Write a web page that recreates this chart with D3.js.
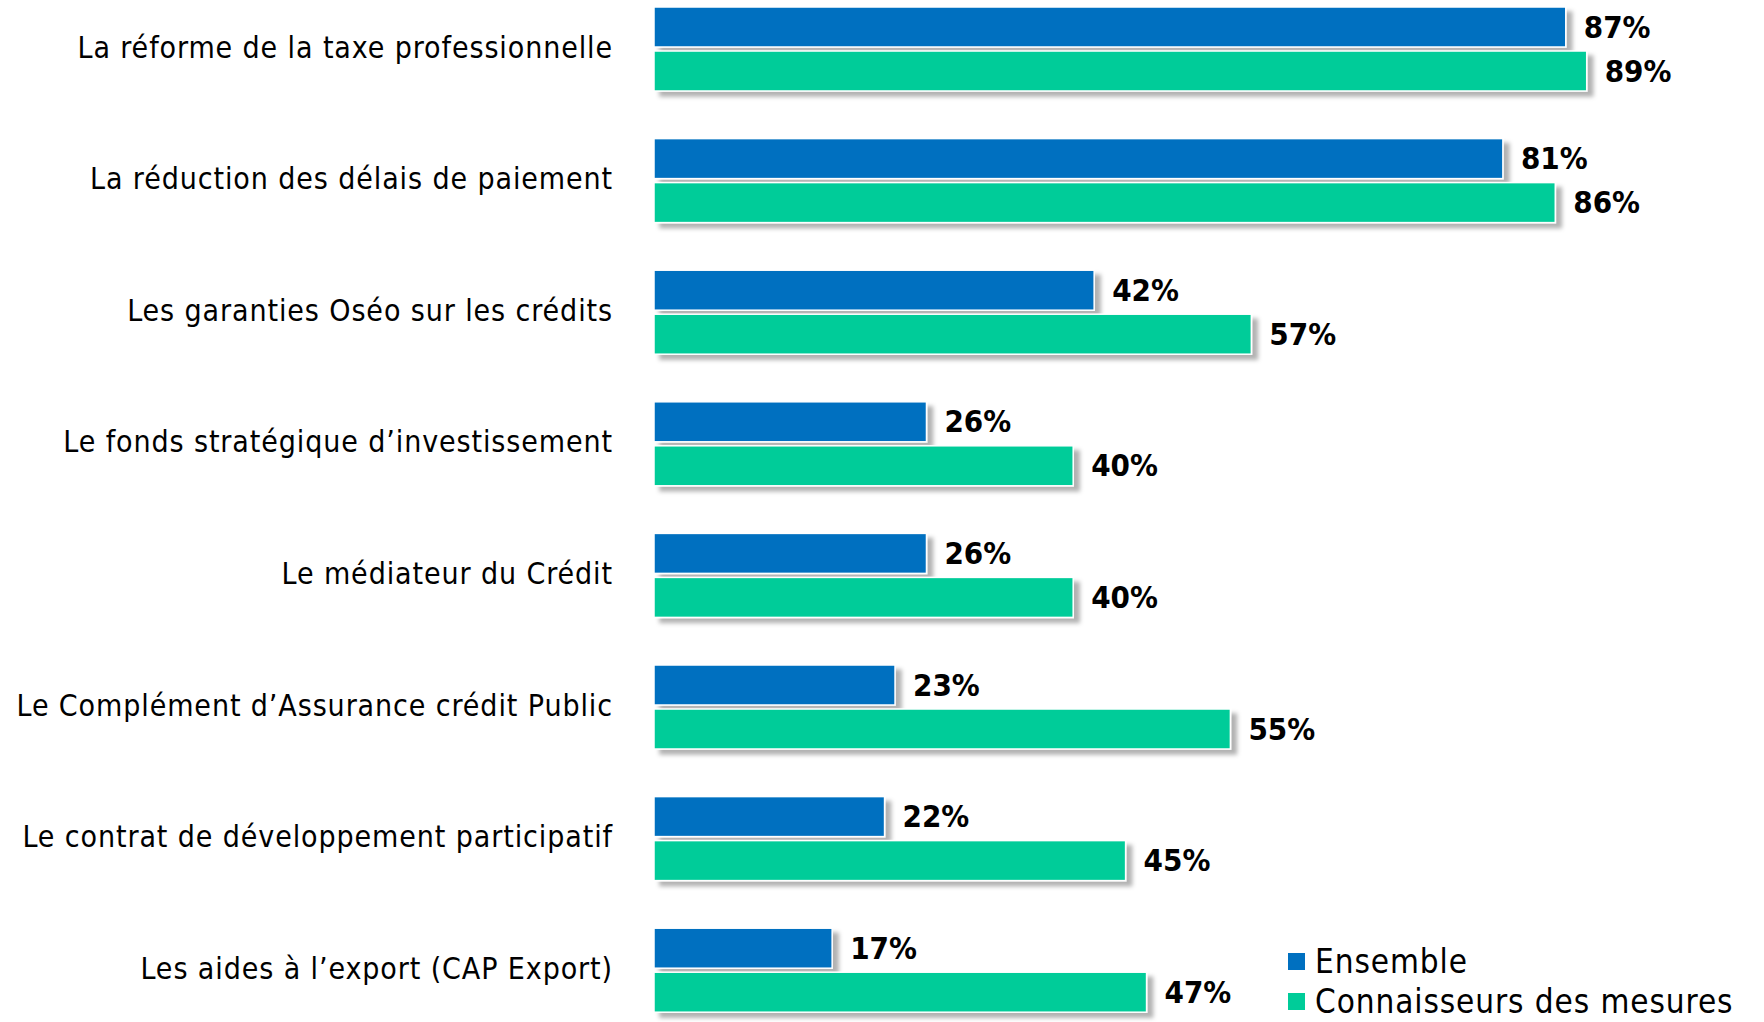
<!DOCTYPE html>
<html>
<head>
<meta charset="utf-8">
<script src="https://cdn.jsdelivr.net/npm/d3@7"></script>
<style>
  body { margin: 0; background: #fff; }
  svg { display: block; }
</style>
</head>
<body>
<svg id="chart"></svg>
<script>
// data
const categories = [
  "La réforme de la taxe professionnelle",
  "La réduction des délais de paiement",
  "Les garanties Oséo sur les crédits",
  "Le fonds stratégique d’investissement",
  "Le médiateur du Crédit",
  "Le Complément d’Assurance crédit Public",
  "Le contrat de développement participatif",
  "Les aides à l’export (CAP Export)"
];
const ensemble = [87, 81, 42, 26, 26, 23, 22, 17];
const connaisseurs = [89, 86, 57, 40, 40, 55, 45, 47];
const seriesNames = ["Ensemble", "Connaisseurs des mesures"];
const colors = ["#0070c0", "#00cc99"];

const width = 1764, height = 1022;
const margin = { top: 7, right: 62, bottom: 0, left: 654 };
const font = "'DejaVu Sans Condensed', 'DejaVu Sans', sans-serif";

const svg = d3.select("#chart").attr("width", width).attr("height", height);

// drop shadow for the bars
const defs = svg.append("defs");
const f = defs.append("filter").attr("id", "shadow")
  .attr("x", "-5%").attr("y", "-30%").attr("width", "115%").attr("height", "170%");
f.append("feDropShadow").attr("dx", 6).attr("dy", 5).attr("stdDeviation", 2)
  .attr("flood-color", "#000").attr("flood-opacity", 0.3);

const x = d3.scaleLinear().domain([0, 100]).range([margin.left, width - margin.right]);
const y = d3.scaleBand().domain(categories)
  .range([margin.top, margin.top + 8 * 131.6]).paddingInner(0).paddingOuter(0);
const barH = 40, gap = 4;

const rows = categories.map((c, i) => ({ c, vals: [ensemble[i], connaisseurs[i]] }));

const g = svg.selectAll(".row").data(rows).enter().append("g").attr("class", "row");

// category labels
g.append("text")
  .attr("x", 613)
  .attr("y", d => y(d.c) + barH + gap / 2)
  .attr("text-anchor", "end")
  .attr("dominant-baseline", "middle")
  .attr("font-family", font)
  .attr("font-size", 30)
  .attr("letter-spacing", 0.9)
  .attr("fill", "#000")
  .text(d => d.c);

[0, 1].forEach(s => {
  g.append("rect")
    .attr("x", x(0))
    .attr("y", d => y(d.c) + s * (barH + gap))
    .attr("width", d => x(d.vals[s]) - x(0))
    .attr("height", barH)
    .attr("fill", colors[s])
    .attr("stroke", "#fff")
    .attr("stroke-width", 1.5)
    .attr("filter", "url(#shadow)");

  g.append("text")
    .attr("x", d => x(d.vals[s]) + 18)
    .attr("y", d => y(d.c) + s * (barH + gap) + barH / 2 + 2)
    .attr("dominant-baseline", "middle")
    .attr("font-family", font)
    .attr("font-weight", "bold")
    .attr("font-size", 31)
    .attr("fill", "#000")
    .text(d => d.vals[s] + "%");
});

// legend
const leg = svg.append("g").attr("transform", "translate(1288,962)");
seriesNames.forEach((n, i) => {
  leg.append("rect").attr("x", 0).attr("y", i * 40 - 9).attr("width", 17).attr("height", 17)
    .attr("fill", colors[i]);
  leg.append("text").attr("x", 27).attr("y", i * 40 + 1)
    .attr("dominant-baseline", "middle")
    .attr("font-family", font)
    .attr("font-size", 33)
    .attr("letter-spacing", 0.9)
    .attr("fill", "#000")
    .text(n);
});
</script>
</body>
</html>
